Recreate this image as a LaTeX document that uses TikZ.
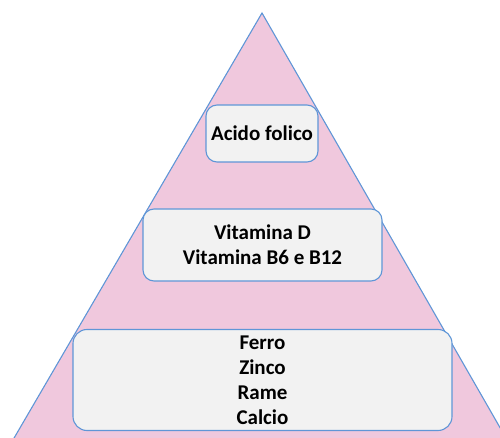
\documentclass[tikz,border=0pt]{standalone}
\usepackage{fontspec}
\setmainfont{Carlito}
\definecolor{pyrpink}{RGB}{240,200,221}
\definecolor{pyrblue}{RGB}{95,150,215}
\definecolor{boxgray}{RGB}{242,242,242}
\tikzset{
  layerbox/.style={draw=pyrblue, line width=1.1pt, fill=boxgray, rounded corners=11pt,
    align=center, inner sep=0pt, font=\fontsize{21}{25}\selectfont\bfseries, text=black},
}
\begin{document}
\begin{tikzpicture}[x=1pt,y=-1pt]
\useasboundingbox (0,0) rectangle (500,438);
\begin{scope}
\clip (0,0) rectangle (500,438);
\draw[pyrblue, line width=1.1pt, fill=pyrpink] (262,13) -- (510,445) -- (10,445) -- cycle;
\end{scope}
\node[layerbox, minimum width=112pt, minimum height=57pt] (acido) at (262,133.5) {Acido folico};
\node[layerbox, minimum width=239pt, minimum height=72pt] (vit) at (262.5,245) {Vitamina D\\Vitamina B6 e B12};
\node[layerbox, minimum width=379pt, minimum height=101pt, rounded corners=14pt] (min) at (262.5,380) {Ferro\\Zinco\\Rame\\Calcio};
\end{tikzpicture}
\end{document}
